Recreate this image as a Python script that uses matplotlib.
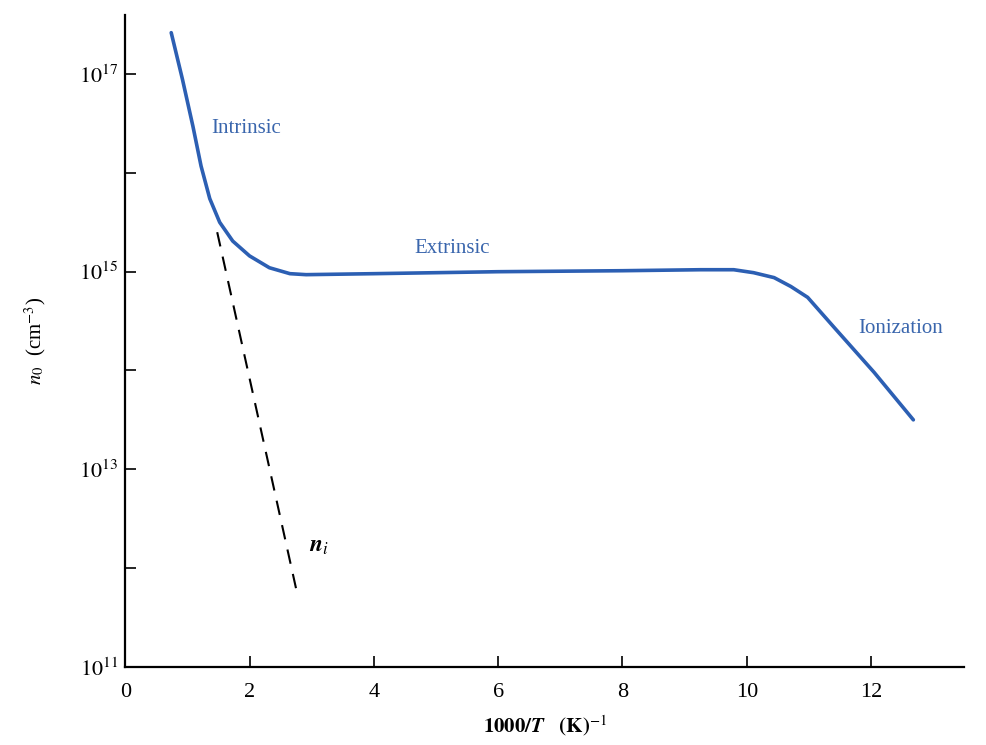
import numpy as np
import matplotlib
matplotlib.use('Agg')
import matplotlib.pyplot as plt

plt.rcParams['font.family'] = ['Liberation Serif', 'DejaVu Serif']
plt.rcParams['mathtext.fontset'] = 'stix'

# n0 curve (x = 1000/T, y = log10 n0)
curve_x = [0.74, 0.92, 1.09, 1.22, 1.36, 1.52, 1.73, 2.0, 2.32, 2.65, 2.91, 4.0, 6.0, 8.0,
           9.26, 9.79, 10.11, 10.44, 10.71, 10.98, 11.4, 12.05, 12.68]
curve_logn = [17.42, 16.95, 16.47, 16.07, 15.74, 15.50, 15.31, 15.16, 15.04, 14.98, 14.97, 14.98, 15.0, 15.01,
              15.02, 15.02, 14.99, 14.94, 14.85, 14.74, 14.44, 13.98, 13.5]

# intrinsic n_i line (dashed)
ni_x = [1.48, 2.76]
ni_logn = [15.4, 11.76]

xticks = [0, 2, 4, 6, 8, 10, 12]
ymajor = [1e11, 1e13, 1e15, 1e17]
ymajor_labels = ['$10^{11}$', '$10^{13}$', '$10^{15}$', '$10^{17}$']
yminor = [1e12, 1e14, 1e16]

blue = '#2c5fb3'
textblue = '#3a66ad'

fig = plt.figure(figsize=(9.86, 7.45), dpi=100)
ax = fig.add_axes([0.127, 0.105, 0.851, 0.875])

ax.plot(curve_x, 10 ** np.array(curve_logn), color=blue, lw=2.6,
        solid_capstyle='round', solid_joinstyle='round')
ax.plot(ni_x, 10 ** np.array(ni_logn), color='black', lw=1.5, ls=(0, (7, 5)))

ax.set_yscale('log')
ax.set_xlim(0, 13.5)
ax.set_ylim(1e11, 10 ** 17.6)

ax.set_xticks(xticks)
ax.set_xticklabels([str(t) for t in xticks], fontsize=16)
ax.set_yticks(ymajor)
ax.set_yticklabels(ymajor_labels, fontsize=16)
ax.set_yticks(yminor, minor=True)
ax.yaxis.set_minor_formatter(plt.NullFormatter())
ax.tick_params(axis='both', which='both', direction='in', length=8, width=1.2)
ax.tick_params(axis='x', which='major', pad=12)
ax.tick_params(axis='y', which='major', pad=5)

for side in ['top', 'right']:
    ax.spines[side].set_visible(False)
for side in ['left', 'bottom']:
    ax.spines[side].set_linewidth(1.6)

ax.text(1.38, 10 ** 16.45, 'Intrinsic', color=textblue, fontsize=15, va='center')
ax.text(4.65, 10 ** 15.23, 'Extrinsic', color=textblue, fontsize=15, va='center')
ax.text(11.8, 10 ** 14.42, 'Ionization', color=textblue, fontsize=15, va='center')
ax.text(2.95, 10 ** 12.22, r'$\boldsymbol{n}_i$', color='black', fontsize=17, va='center')

ax.set_xlabel(r'$\mathbf{1000/}\boldsymbol{T}$   $\mathbf{(K)}^{-1}$', fontsize=15, labelpad=8)
ax.set_ylabel(r'$n_0$  (cm$^{-3}$)', fontsize=15, labelpad=22)

fig.savefig('out.png', dpi=100)
